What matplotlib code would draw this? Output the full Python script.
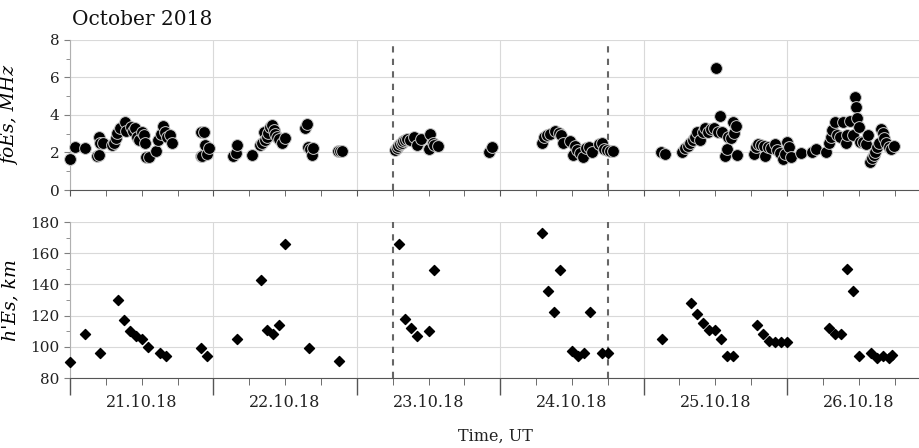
import matplotlib
matplotlib.use('Agg')
import matplotlib.pyplot as plt
from matplotlib.ticker import MultipleLocator, NullFormatter

# hours since 21.10.2018 00:00 UT
foes_hours = [0.0, 0.8, 2.5, 4.6, 4.8, 4.9, 5.0, 5.6, 7.0, 7.3, 7.7, 7.9, 8.4, 9.2, 9.4,
              10.2, 10.6, 10.9, 11.2, 11.5, 12.1, 12.4, 12.5, 12.7, 13.2, 14.4, 14.8, 15.3,
              15.5, 15.9, 16.3, 16.8, 17.1,
              21.9, 22.1, 22.0, 22.4, 22.6, 22.9, 23.2,
              27.3, 27.7, 27.9, 30.5, 31.8, 32.2, 32.4, 32.7, 32.9, 33.2, 33.5, 33.8, 34.1,
              34.3, 34.6, 34.9, 35.5, 36.0, 39.3, 39.7, 39.9, 40.2, 40.5, 40.7, 44.8, 45.2, 45.5,
              54.4, 54.7, 54.9, 55.2, 55.5, 55.8, 56.1, 56.4, 56.9, 57.5, 58.0, 58.7, 60.0,
              60.3, 60.7, 61.0, 61.6,
              70.2, 70.7, 79.0, 79.4, 79.8, 80.4, 81.2, 81.8, 82.2, 82.5, 83.7, 84.2, 84.6,
              84.9, 85.3, 85.9, 86.4, 86.8, 87.3, 88.5, 89.0, 89.4, 89.9, 90.4, 90.8,
              98.9, 99.6, 102.5, 102.9, 103.4, 103.8, 104.2, 104.6, 105.0, 105.5, 105.9,
              106.3, 106.7, 107.2, 107.7, 108.1, 108.4, 108.8, 109.2, 109.7, 109.9, 110.2,
              110.6, 110.9, 111.2, 111.5, 111.6,
              114.5, 114.8, 115.2, 115.6, 116.1, 116.4, 116.8, 117.3, 118.0, 118.4, 118.8,
              119.3, 119.6, 120.0, 120.4, 120.6, 122.3,
              124.2, 124.9, 126.5, 127.0, 127.3, 127.5, 128.1, 128.4, 128.9, 129.4, 129.8,
              130.0, 130.5, 131.0, 131.3, 131.5, 131.7, 132.0, 132.3, 132.8, 133.3, 133.5,
              133.9, 134.2, 134.5, 134.8, 135.1, 135.4, 135.7, 136.1, 136.3, 136.6, 137.0,
              137.4, 137.9]
foes_mhz = [1.65, 2.29, 2.24, 1.83, 1.85, 2.83, 2.5, 2.5, 2.42, 2.5, 2.75, 3.06, 3.3, 3.64, 3.16,
            3.38, 3.16, 3.3, 2.84, 2.65, 3.1, 2.95, 2.52, 1.78, 1.78, 2.1, 2.65, 3.0,
            3.43, 3.1, 2.85, 2.95, 2.52,
            1.83, 1.83, 3.1, 3.1, 2.4, 1.9, 2.25,
            1.83, 1.95, 2.4, 1.88, 2.4, 2.5, 3.1, 2.65, 2.85, 3.05, 3.35, 3.45, 3.2,
            3.0, 2.85, 2.7, 2.5, 2.75, 3.3, 3.5, 2.3, 2.2, 1.85, 2.25, 2.1, 2.1, 2.1,
            2.15, 2.25, 2.35, 2.45, 2.5, 2.6, 2.65, 2.7, 2.65, 2.85, 2.4, 2.7, 2.2,
            3.0, 2.5, 2.4, 2.35,
            2.04, 2.27, 2.49, 2.84, 2.93, 2.99, 3.16, 3.02, 2.93, 2.52, 2.63, 1.86, 2.36,
            2.13, 1.95, 1.74, 2.22, 2.31, 2.04, 2.45, 2.49, 2.17, 2.13, 2.1, 2.08,
            2.04, 1.92, 2.04, 2.22, 2.36, 2.52, 2.67, 2.84, 3.11, 2.67, 3.11,
            3.29, 3.11, 3.25, 3.29, 6.48, 3.11, 3.95, 3.11, 1.81, 2.18, 2.84,
            2.79, 3.6, 3.06, 3.41, 1.86,
            1.92, 2.31, 2.43, 2.4, 2.36, 1.81, 2.31, 2.22, 2.45, 2.13, 1.99,
            1.64, 1.92, 2.58, 2.31, 1.78, 1.95,
            2.04, 2.17, 2.01, 2.52, 2.84, 3.2, 3.6, 2.93, 2.84, 3.6, 2.52,
            2.93, 3.7, 2.93, 4.94, 4.44, 3.82, 3.34, 2.58, 2.58, 2.43, 2.93,
            1.51, 1.69, 1.86, 2.04, 2.31, 2.49, 3.24, 3.02, 2.76, 2.52, 2.31,
            2.18, 2.34]

hes_hours = [0, 2.5, 5, 8, 9, 10, 11, 12, 13, 15, 16, 22, 23,
             28, 32, 33, 34, 35, 36, 40, 45,
             55, 56, 57, 58, 60, 61,
             79, 80, 81, 82, 84, 85, 86, 87, 89, 90,
             99, 104, 105, 106, 107, 108, 109, 110, 111,
             115, 116, 117, 118, 119, 120,
             127, 128, 129, 130, 131, 132, 134, 135, 136, 137, 137.5]
hes_km = [90, 108, 96, 130, 117, 110, 107, 105, 100, 96, 94, 99, 94,
          105, 143, 111, 108, 114, 166, 99, 91,
          166, 118, 112, 107, 110, 149,
          173, 136, 122, 149, 97, 94, 96, 122, 96, 96,
          105, 128, 121, 115, 111, 111, 105, 94, 94,
          114, 108, 104, 103, 103, 103,
          112, 108, 108, 150, 136, 94, 96, 93, 94, 93, 95]

day_labels = ['21.10.18', '22.10.18', '23.10.18', '24.10.18', '25.10.18', '26.10.18']
event_hours = [54, 90]

plt.rcParams['font.family'] = 'DejaVu Serif'
plt.rcParams['font.size'] = 11

fig = plt.figure(figsize=(9.2, 4.48), dpi=100)
ax1 = fig.add_axes([70 / 920, 1 - 190 / 448, 849 / 920, 150 / 448])
ax2 = fig.add_axes([70 / 920, 1 - 378 / 448, 849 / 920, 156 / 448])

xmax = 849 / 143.4 * 24
grid_c = '#d9d9d9'
tick_c = '#7f7f7f'

for ax in (ax1, ax2):
    ax.set_xlim(0, xmax)
    for s in ('top', 'right'):
        ax.spines[s].set_visible(False)
    ax.spines['left'].set_color('#b0b0b0')
    ax.spines['bottom'].set_color('#555555')
    ax.xaxis.set_major_locator(MultipleLocator(24))
    ax.xaxis.set_minor_locator(MultipleLocator(6))
    ax.grid(True, which='major', color=grid_c, linewidth=0.8)
    ax.set_axisbelow(True)
    ax.tick_params(axis='y', which='both', colors=tick_c, labelcolor='#222222', length=4)
    ax.tick_params(axis='y', which='minor', length=3)
    ax.tick_params(axis='x', which='both', colors='#555555')
    for h in event_hours:
        ax.axvline(h, color='#666666', linestyle=(0, (3, 3)), linewidth=1.5, zorder=1)

ax1.scatter(foes_hours, foes_mhz, s=72, color='black', edgecolors='#c8c8c8',
            linewidths=0.7, zorder=3, clip_on=False)
ax1.set_ylim(0, 8)
ax1.yaxis.set_major_locator(MultipleLocator(2))
ax1.yaxis.set_minor_locator(MultipleLocator(1))
ax1.xaxis.set_major_formatter(NullFormatter())
ax1.tick_params(axis='x', which='both', length=4)
ax1.set_ylabel('foEs, MHz', style='italic', fontsize=13.5)

ax2.scatter(hes_hours, hes_km, s=26, marker='D', color='black', zorder=3, clip_on=False)
ax2.set_ylim(80, 180)
ax2.yaxis.set_major_locator(MultipleLocator(20))
ax2.yaxis.set_minor_locator(MultipleLocator(10))
ax2.xaxis.set_major_formatter(NullFormatter())
ax2.tick_params(axis='x', which='major', length=12, width=1)
ax2.tick_params(axis='x', which='minor', length=5)
for i, lab in enumerate(day_labels):
    ax2.text(12 + 24 * i, -0.1, lab, transform=ax2.get_xaxis_transform(),
             ha='center', va='top', fontsize=11.5, color='#222222')
ax2.set_ylabel("h'Es, km", style='italic', fontsize=13.5)
ax1.yaxis.set_label_coords(-0.06, 0.5)
ax2.yaxis.set_label_coords(-0.06, 0.5)
fig.text(495 / 920, 1 - 441 / 448, 'Time, UT', ha='center', va='baseline',
         fontsize=11.5, color='#222222')

fig.text(72 / 920, 1 - 25 / 448, 'October 2018', ha='left', va='baseline',
         fontsize=14.5, color='#111111')

fig.savefig('out.png', dpi=100)
